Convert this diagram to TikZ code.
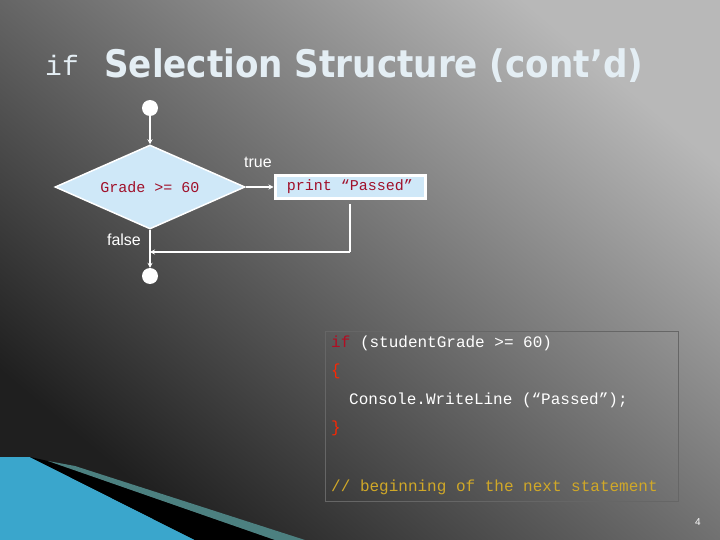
\documentclass[tikz,border=0pt]{standalone}
\usepackage{fontspec}
\setmainfont{Liberation Sans}
\setmonofont{Liberation Mono}
\newfontfamily\titlefont{DejaVu Sans Condensed}
\usetikzlibrary{shapes.geometric,arrows.meta,shadows}
\definecolor{lblue}{HTML}{CFE8F8}
\definecolor{codered}{HTML}{A0102A}
\definecolor{cmt}{HTML}{D0A828}
\definecolor{ttl}{HTML}{E4EEF4}
\definecolor{wedge}{HTML}{3AA6CC}
\begin{document}
\begin{tikzpicture}[x=1pt,y=-1pt,
  conn/.style={draw=white,line width=1.5pt},
  arr/.style={conn,-{Stealth[length=5pt,width=5pt]}},
  dot/.style={circle,fill=white,minimum size=16pt,inner sep=0pt},
  lab/.style={text=white,font=\fontsize{16}{18}\selectfont,inner sep=0pt},
  code/.style={anchor=west,inner sep=0pt,font=\ttfamily\fontsize{16}{18}\selectfont}]
\useasboundingbox (0,0) rectangle (720,540);
\shade[top color=black!28, bottom color=black!88, shading angle=-40] (0,0) rectangle (720,540);
% bottom-left wedges
\fill[wedge] (0,540) -- (0,457) -- (30,457) -- (195,540) -- cycle;
\fill[black] (30,457) -- (48,461) -- (275,540) -- (195,540) -- cycle;
\fill[gray!60!teal] (48,461) -- (75,466) -- (305,540) -- (275,540) -- cycle;
% title
\node[anchor=base west,inner sep=0pt,text=ttl,font=\ttfamily\fontsize{28}{30}\selectfont] (kw) at (45,76) {if};
\node[anchor=base west,inner sep=0pt,text=ttl,font=\titlefont\bfseries\fontsize{38}{40}\selectfont] (ttl) at (104,78) {Selection Structure (cont’d)};
% flowchart
\node[dot] (s) at (150,108) {};
\node[diamond,fill=lblue,draw=white,line width=1.5pt,minimum width=190pt,minimum height=84pt,inner sep=0pt,aspect=2.2,text=codered,font=\ttfamily\fontsize{15}{17}\selectfont] (d) at (150,187) {Grade >= 60};
\node[draw=white,line width=3pt,fill=lblue,minimum width=150pt,minimum height=23pt,inner sep=1pt,text=codered,font=\ttfamily\fontsize{15}{17}\selectfont] (p) at (350,187) {print “Passed”};
\node[dot] (e) at (150,276) {};
\coordinate (j) at (150,252);
\coordinate (c) at (350,252);
\coordinate (pb) at (350,204);
\draw[arr] (s) -- (d.north);
\draw[arr] (d.east) -- (p.west);
\draw[arr] (d.south) -- (e);
\draw[conn] (pb) -- (c);
\draw[arr] (c) -- (j);
\node[lab] (t) at (258,162) {true};
\node[lab] (f) at (124,240) {false};
% code box
\node[draw=black!60,minimum width=353pt,minimum height=170pt,inner sep=0pt] (cb) at (501.5,416) {};
\node[code,text=white] (l1) at (331,343) {\textcolor{codered!80!red}{if} (studentGrade >= 60)};
\node[code,text=red!70!orange] (l2) at (331,371) {\{};
\node[code,text=white] (l3) at (349,400) {Console.WriteLine (“Passed”);};
\node[code,text=red!70!orange] (l4) at (331,428) {\}};
\node[code,text=cmt] (l5) at (331,487) {// beginning of the next statement};
\node[text=white,font=\fontsize{10}{12}\selectfont,inner sep=0pt] (n) at (698,522) {4};
\end{tikzpicture}
\end{document}
